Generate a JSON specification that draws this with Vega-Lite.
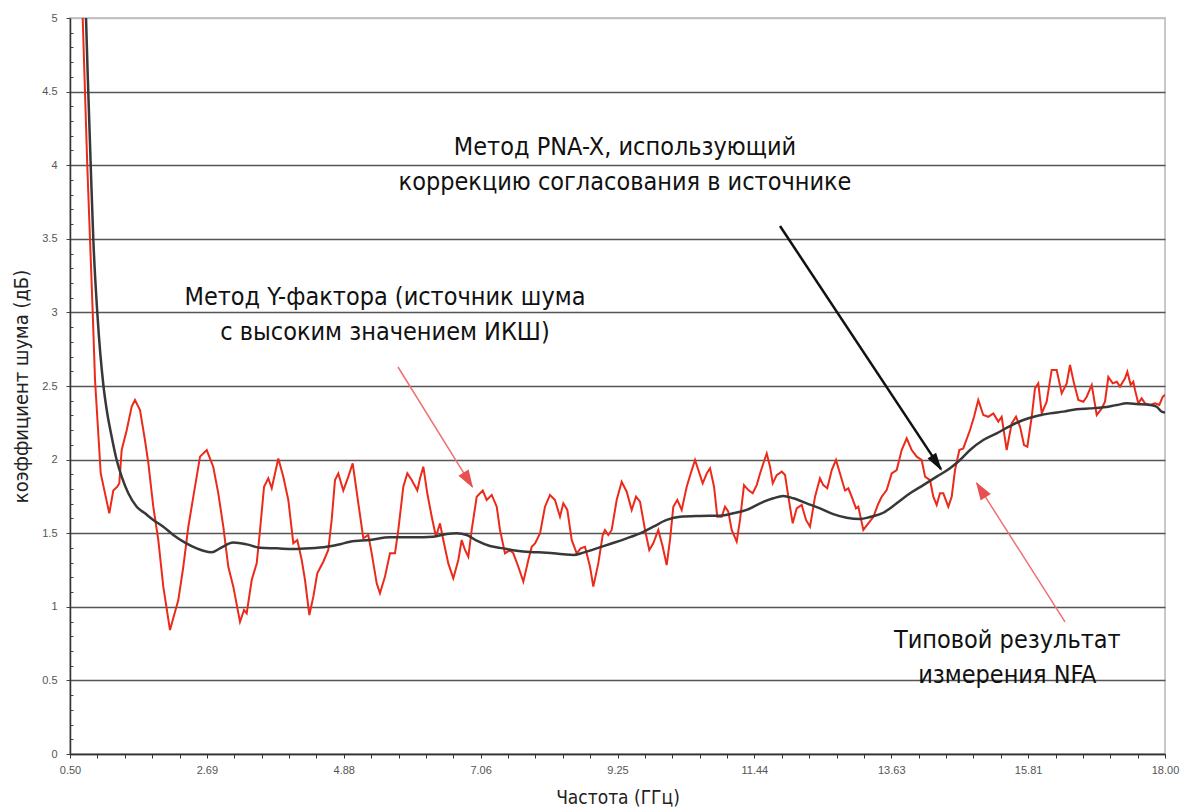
{
  "$schema": "https://vega.github.io/schema/vega-lite/v6.json",
  "width": 1095,
  "height": 736,
  "autosize": {"type": "none"},
  "padding": {"left": 70, "top": 18, "right": 19, "bottom": 58},
  "background": "white",
  "config": {
    "view": {"stroke": "#c8c8c8", "strokeWidth": 2},
    "font": "Liberation Sans"
  },
  "datasets": {
    "red": [
      {"freq": 0.66, "nf": 5.3}, {"freq": 0.703, "nf": 5.0}, {"freq": 0.776, "nf": 4.0}, {"freq": 0.863, "nf": 3.0},
      {"freq": 0.9, "nf": 2.54}, {"freq": 0.991, "nf": 1.906}, {"freq": 1.128, "nf": 1.635}, {"freq": 1.192, "nf": 1.79},
      {"freq": 1.256, "nf": 1.816}, {"freq": 1.288, "nf": 1.839}, {"freq": 1.326, "nf": 2.065}, {"freq": 1.406, "nf": 2.2},
      {"freq": 1.486, "nf": 2.36}, {"freq": 1.539, "nf": 2.405}, {"freq": 1.619, "nf": 2.337}, {"freq": 1.699, "nf": 2.13},
      {"freq": 1.751, "nf": 1.98}, {"freq": 1.831, "nf": 1.68}, {"freq": 1.911, "nf": 1.454}, {"freq": 1.991, "nf": 1.137},
      {"freq": 2.098, "nf": 0.842}, {"freq": 2.231, "nf": 1.046}, {"freq": 2.311, "nf": 1.272}, {"freq": 2.391, "nf": 1.544},
      {"freq": 2.471, "nf": 1.748}, {"freq": 2.578, "nf": 2.02}, {"freq": 2.685, "nf": 2.065}, {"freq": 2.79, "nf": 1.95},
      {"freq": 2.87, "nf": 1.771}, {"freq": 2.95, "nf": 1.544}, {"freq": 3.03, "nf": 1.272}, {"freq": 3.11, "nf": 1.137},
      {"freq": 3.217, "nf": 0.898}, {"freq": 3.281, "nf": 0.978}, {"freq": 3.324, "nf": 0.955}, {"freq": 3.404, "nf": 1.182},
      {"freq": 3.484, "nf": 1.295}, {"freq": 3.537, "nf": 1.52}, {"freq": 3.601, "nf": 1.816}, {"freq": 3.669, "nf": 1.873},
      {"freq": 3.724, "nf": 1.805}, {"freq": 3.776, "nf": 1.906}, {"freq": 3.829, "nf": 2.008}, {"freq": 3.909, "nf": 1.884},
      {"freq": 3.989, "nf": 1.726}, {"freq": 4.069, "nf": 1.431}, {"freq": 4.133, "nf": 1.454}, {"freq": 4.203, "nf": 1.318},
      {"freq": 4.256, "nf": 1.182}, {"freq": 4.325, "nf": 0.944}, {"freq": 4.389, "nf": 1.069}, {"freq": 4.452, "nf": 1.228},
      {"freq": 4.548, "nf": 1.306}, {"freq": 4.628, "nf": 1.386}, {"freq": 4.682, "nf": 1.59}, {"freq": 4.735, "nf": 1.861},
      {"freq": 4.788, "nf": 1.906}, {"freq": 4.868, "nf": 1.79}, {"freq": 4.948, "nf": 1.884}, {"freq": 5.018, "nf": 1.975},
      {"freq": 5.108, "nf": 1.703}, {"freq": 5.188, "nf": 1.465}, {"freq": 5.267, "nf": 1.488}, {"freq": 5.322, "nf": 1.363},
      {"freq": 5.402, "nf": 1.159}, {"freq": 5.454, "nf": 1.092}, {"freq": 5.534, "nf": 1.205}, {"freq": 5.614, "nf": 1.363},
      {"freq": 5.694, "nf": 1.363}, {"freq": 5.747, "nf": 1.522}, {"freq": 5.827, "nf": 1.816}, {"freq": 5.891, "nf": 1.906},
      {"freq": 5.961, "nf": 1.861}, {"freq": 6.051, "nf": 1.79}, {"freq": 6.094, "nf": 1.873}, {"freq": 6.147, "nf": 1.952},
      {"freq": 6.21, "nf": 1.771}, {"freq": 6.281, "nf": 1.612}, {"freq": 6.349, "nf": 1.476}, {"freq": 6.413, "nf": 1.567},
      {"freq": 6.466, "nf": 1.454}, {"freq": 6.546, "nf": 1.295}, {"freq": 6.626, "nf": 1.193}, {"freq": 6.706, "nf": 1.318},
      {"freq": 6.76, "nf": 1.454}, {"freq": 6.813, "nf": 1.386}, {"freq": 6.866, "nf": 1.34}, {"freq": 6.92, "nf": 1.522},
      {"freq": 7.0, "nf": 1.748}, {"freq": 7.096, "nf": 1.79}, {"freq": 7.16, "nf": 1.726}, {"freq": 7.24, "nf": 1.76},
      {"freq": 7.32, "nf": 1.68}, {"freq": 7.372, "nf": 1.522}, {"freq": 7.452, "nf": 1.363}, {"freq": 7.532, "nf": 1.386},
      {"freq": 7.585, "nf": 1.363}, {"freq": 7.665, "nf": 1.272}, {"freq": 7.745, "nf": 1.171}, {"freq": 7.825, "nf": 1.318},
      {"freq": 7.879, "nf": 1.408}, {"freq": 7.932, "nf": 1.431}, {"freq": 8.012, "nf": 1.499}, {"freq": 8.091, "nf": 1.68},
      {"freq": 8.171, "nf": 1.76}, {"freq": 8.251, "nf": 1.726}, {"freq": 8.331, "nf": 1.612}, {"freq": 8.384, "nf": 1.703},
      {"freq": 8.448, "nf": 1.658}, {"freq": 8.518, "nf": 1.454}, {"freq": 8.598, "nf": 1.363}, {"freq": 8.662, "nf": 1.397},
      {"freq": 8.731, "nf": 1.408}, {"freq": 8.811, "nf": 1.272}, {"freq": 8.863, "nf": 1.137}, {"freq": 8.943, "nf": 1.295},
      {"freq": 9.014, "nf": 1.488}, {"freq": 9.05, "nf": 1.522}, {"freq": 9.103, "nf": 1.488}, {"freq": 9.157, "nf": 1.522},
      {"freq": 9.237, "nf": 1.726}, {"freq": 9.317, "nf": 1.85}, {"freq": 9.397, "nf": 1.782}, {"freq": 9.477, "nf": 1.658},
      {"freq": 9.546, "nf": 1.748}, {"freq": 9.61, "nf": 1.714}, {"freq": 9.69, "nf": 1.522}, {"freq": 9.758, "nf": 1.386},
      {"freq": 9.822, "nf": 1.431}, {"freq": 9.902, "nf": 1.522}, {"freq": 9.973, "nf": 1.408}, {"freq": 10.036, "nf": 1.284},
      {"freq": 10.089, "nf": 1.454}, {"freq": 10.142, "nf": 1.68}, {"freq": 10.206, "nf": 1.726}, {"freq": 10.276, "nf": 1.658},
      {"freq": 10.356, "nf": 1.816}, {"freq": 10.42, "nf": 1.906}, {"freq": 10.489, "nf": 1.997}, {"freq": 10.542, "nf": 1.929},
      {"freq": 10.612, "nf": 1.839}, {"freq": 10.676, "nf": 1.906}, {"freq": 10.729, "nf": 1.941}, {"freq": 10.793, "nf": 1.816},
      {"freq": 10.845, "nf": 1.612}, {"freq": 10.916, "nf": 1.612}, {"freq": 10.968, "nf": 1.68}, {"freq": 11.021, "nf": 1.647},
      {"freq": 11.075, "nf": 1.522}, {"freq": 11.155, "nf": 1.442}, {"freq": 11.208, "nf": 1.59}, {"freq": 11.272, "nf": 1.827},
      {"freq": 11.341, "nf": 1.793}, {"freq": 11.411, "nf": 1.771}, {"freq": 11.475, "nf": 1.827}, {"freq": 11.528, "nf": 1.906},
      {"freq": 11.581, "nf": 1.975}, {"freq": 11.635, "nf": 2.042}, {"freq": 11.688, "nf": 1.952}, {"freq": 11.731, "nf": 1.839},
      {"freq": 11.795, "nf": 1.895}, {"freq": 11.875, "nf": 1.918}, {"freq": 11.928, "nf": 1.895}, {"freq": 11.98, "nf": 1.748},
      {"freq": 12.05, "nf": 1.567}, {"freq": 12.114, "nf": 1.669}, {"freq": 12.194, "nf": 1.692}, {"freq": 12.263, "nf": 1.59},
      {"freq": 12.327, "nf": 1.544}, {"freq": 12.407, "nf": 1.748}, {"freq": 12.486, "nf": 1.873}, {"freq": 12.539, "nf": 1.827},
      {"freq": 12.603, "nf": 1.805}, {"freq": 12.674, "nf": 1.929}, {"freq": 12.742, "nf": 1.997}, {"freq": 12.806, "nf": 1.906},
      {"freq": 12.886, "nf": 1.79}, {"freq": 12.939, "nf": 1.805}, {"freq": 12.993, "nf": 1.748}, {"freq": 13.062, "nf": 1.669},
      {"freq": 13.099, "nf": 1.68}, {"freq": 13.179, "nf": 1.522}, {"freq": 13.258, "nf": 1.567}, {"freq": 13.338, "nf": 1.61},
      {"freq": 13.418, "nf": 1.7}, {"freq": 13.472, "nf": 1.748}, {"freq": 13.552, "nf": 1.793}, {"freq": 13.632, "nf": 1.906},
      {"freq": 13.712, "nf": 1.929}, {"freq": 13.792, "nf": 2.065}, {"freq": 13.872, "nf": 2.145}, {"freq": 13.952, "nf": 2.065},
      {"freq": 14.032, "nf": 2.02}, {"freq": 14.112, "nf": 1.997}, {"freq": 14.165, "nf": 1.884}, {"freq": 14.245, "nf": 1.861},
      {"freq": 14.297, "nf": 1.748}, {"freq": 14.351, "nf": 1.692}, {"freq": 14.404, "nf": 1.771}, {"freq": 14.457, "nf": 1.771},
      {"freq": 14.537, "nf": 1.68}, {"freq": 14.591, "nf": 1.748}, {"freq": 14.644, "nf": 1.929}, {"freq": 14.713, "nf": 2.065},
      {"freq": 14.776, "nf": 2.076}, {"freq": 14.884, "nf": 2.201}, {"freq": 14.948, "nf": 2.291}, {"freq": 15.016, "nf": 2.405},
      {"freq": 15.096, "nf": 2.303}, {"freq": 15.176, "nf": 2.291}, {"freq": 15.256, "nf": 2.314}, {"freq": 15.336, "nf": 2.258},
      {"freq": 15.39, "nf": 2.291}, {"freq": 15.47, "nf": 2.065}, {"freq": 15.55, "nf": 2.246}, {"freq": 15.619, "nf": 2.291},
      {"freq": 15.683, "nf": 2.224}, {"freq": 15.747, "nf": 2.099}, {"freq": 15.8, "nf": 2.088}, {"freq": 15.87, "nf": 2.291},
      {"freq": 15.922, "nf": 2.484}, {"freq": 15.975, "nf": 2.518}, {"freq": 16.03, "nf": 2.314}, {"freq": 16.109, "nf": 2.393},
      {"freq": 16.189, "nf": 2.609}, {"freq": 16.269, "nf": 2.609}, {"freq": 16.349, "nf": 2.45}, {"freq": 16.429, "nf": 2.518},
      {"freq": 16.482, "nf": 2.643}, {"freq": 16.546, "nf": 2.518}, {"freq": 16.615, "nf": 2.405}, {"freq": 16.695, "nf": 2.393},
      {"freq": 16.749, "nf": 2.427}, {"freq": 16.829, "nf": 2.507}, {"freq": 16.909, "nf": 2.303}, {"freq": 16.989, "nf": 2.348},
      {"freq": 17.041, "nf": 2.393}, {"freq": 17.094, "nf": 2.561}, {"freq": 17.165, "nf": 2.518}, {"freq": 17.229, "nf": 2.529},
      {"freq": 17.281, "nf": 2.496}, {"freq": 17.361, "nf": 2.552}, {"freq": 17.398, "nf": 2.597}, {"freq": 17.452, "nf": 2.507},
      {"freq": 17.494, "nf": 2.529}, {"freq": 17.521, "nf": 2.473}, {"freq": 17.574, "nf": 2.382}, {"freq": 17.627, "nf": 2.416},
      {"freq": 17.681, "nf": 2.382}, {"freq": 17.76, "nf": 2.371}, {"freq": 17.84, "nf": 2.382}, {"freq": 17.909, "nf": 2.371},
      {"freq": 17.963, "nf": 2.427}, {"freq": 18.0, "nf": 2.44}
    ],
    "black": [
      {"freq": 0.74, "nf": 5.3}, {"freq": 0.756, "nf": 5.0}, {"freq": 0.792, "nf": 4.5}, {"freq": 0.831, "nf": 4.0},
      {"freq": 0.872, "nf": 3.5}, {"freq": 0.936, "nf": 3.0}, {"freq": 1.035, "nf": 2.5}, {"freq": 1.087, "nf": 2.337},
      {"freq": 1.166, "nf": 2.156}, {"freq": 1.246, "nf": 1.997}, {"freq": 1.326, "nf": 1.884}, {"freq": 1.432, "nf": 1.771},
      {"freq": 1.566, "nf": 1.68}, {"freq": 1.699, "nf": 1.635}, {"freq": 1.831, "nf": 1.59}, {"freq": 1.991, "nf": 1.544},
      {"freq": 2.151, "nf": 1.488}, {"freq": 2.338, "nf": 1.436}, {"freq": 2.525, "nf": 1.397}, {"freq": 2.63, "nf": 1.381},
      {"freq": 2.765, "nf": 1.37}, {"freq": 2.897, "nf": 1.397}, {"freq": 3.11, "nf": 1.436}, {"freq": 3.324, "nf": 1.424},
      {"freq": 3.537, "nf": 1.401}, {"freq": 3.804, "nf": 1.397}, {"freq": 4.069, "nf": 1.392}, {"freq": 4.336, "nf": 1.397},
      {"freq": 4.603, "nf": 1.408}, {"freq": 4.815, "nf": 1.425}, {"freq": 4.975, "nf": 1.442}, {"freq": 5.295, "nf": 1.454},
      {"freq": 5.614, "nf": 1.472}, {"freq": 5.987, "nf": 1.472}, {"freq": 6.306, "nf": 1.476}, {"freq": 6.52, "nf": 1.495},
      {"freq": 6.68, "nf": 1.499}, {"freq": 6.84, "nf": 1.488}, {"freq": 7.0, "nf": 1.449}, {"freq": 7.212, "nf": 1.413},
      {"freq": 7.425, "nf": 1.397}, {"freq": 7.639, "nf": 1.381}, {"freq": 7.852, "nf": 1.372}, {"freq": 8.118, "nf": 1.368},
      {"freq": 8.384, "nf": 1.357}, {"freq": 8.544, "nf": 1.352}, {"freq": 8.704, "nf": 1.368}, {"freq": 8.918, "nf": 1.397},
      {"freq": 9.13, "nf": 1.427}, {"freq": 9.397, "nf": 1.465}, {"freq": 9.61, "nf": 1.499}, {"freq": 9.822, "nf": 1.544},
      {"freq": 10.036, "nf": 1.59}, {"freq": 10.249, "nf": 1.612}, {"freq": 10.569, "nf": 1.617}, {"freq": 10.889, "nf": 1.619},
      {"freq": 11.101, "nf": 1.635}, {"freq": 11.315, "nf": 1.658}, {"freq": 11.528, "nf": 1.703}, {"freq": 11.74, "nf": 1.737},
      {"freq": 11.9, "nf": 1.753}, {"freq": 12.06, "nf": 1.737}, {"freq": 12.274, "nf": 1.703}, {"freq": 12.486, "nf": 1.669},
      {"freq": 12.699, "nf": 1.63}, {"freq": 12.913, "nf": 1.605}, {"freq": 13.126, "nf": 1.596}, {"freq": 13.286, "nf": 1.61},
      {"freq": 13.498, "nf": 1.639}, {"freq": 13.712, "nf": 1.703}, {"freq": 13.925, "nf": 1.771}, {"freq": 14.137, "nf": 1.827},
      {"freq": 14.351, "nf": 1.884}, {"freq": 14.564, "nf": 1.941}, {"freq": 14.724, "nf": 1.997}, {"freq": 14.884, "nf": 2.065},
      {"freq": 15.096, "nf": 2.133}, {"freq": 15.31, "nf": 2.178}, {"freq": 15.523, "nf": 2.228}, {"freq": 15.736, "nf": 2.269},
      {"freq": 15.95, "nf": 2.296}, {"freq": 16.163, "nf": 2.314}, {"freq": 16.375, "nf": 2.326}, {"freq": 16.589, "nf": 2.342},
      {"freq": 16.802, "nf": 2.348}, {"freq": 17.015, "nf": 2.355}, {"freq": 17.229, "nf": 2.371}, {"freq": 17.389, "nf": 2.382},
      {"freq": 17.549, "nf": 2.378}, {"freq": 17.76, "nf": 2.371}, {"freq": 17.867, "nf": 2.359}, {"freq": 17.947, "nf": 2.326},
      {"freq": 18.0, "nf": 2.32}
    ],
    "notes": [
      {"freq": 9.37, "nf": 4.124, "label": "Метод PNA-X, использующий"},
      {"freq": 9.37, "nf": 3.886, "label": "коррекцию согласования в источнике"},
      {"freq": 5.534, "nf": 3.105, "label": "Метод Y-фактора (источник шума"},
      {"freq": 5.534, "nf": 2.867, "label": "с высоким значением ИКШ)"},
      {"freq": 15.48, "nf": 0.774, "label": "Типовой результат"},
      {"freq": 15.48, "nf": 0.537, "label": "измерения NFA"}
    ],
    "arrows": [
      {"id": "pna", "freq": 11.847, "nf": 3.587, "freq2": 14.42, "nf2": 1.935},
      {"id": "yf", "freq": 5.742, "nf": 2.629, "freq2": 6.93, "nf2": 1.815},
      {"id": "nfa", "freq": 16.402, "nf": 0.897, "freq2": 14.99, "nf2": 1.84}
    ],
    "heads": [
      {"id": "pna", "freq": 14.436, "nf": 1.923},
      {"id": "yf", "freq": 6.941, "nf": 1.807},
      {"id": "nfa", "freq": 14.98, "nf": 1.848}
    ]
  },
  "encoding": {
    "x": {
      "field": "freq", "type": "quantitative",
      "title": "Частота (ГГц)",
      "scale": {"domain": [0.5, 18], "nice": false, "zero": false},
      "axis": {
        "values": [0.5, 0.9375, 1.375, 1.8125, 2.25, 2.6875, 3.125, 3.5625, 4.0, 4.4375, 4.875, 5.3125, 5.75, 6.1875, 6.625, 7.0625, 7.5, 7.9375, 8.375, 8.8125, 9.25, 9.6875, 10.125, 10.5625, 11.0, 11.4375, 11.875, 12.3125, 12.75, 13.1875, 13.625, 14.0625, 14.5, 14.9375, 15.375, 15.8125, 16.25, 16.6875, 17.125, 17.5625, 18.0],
        "labelExpr": "abs((datum.value-0.5)/2.1875 - round((datum.value-0.5)/2.1875)) < 0.001 ? format(datum.value, '.2f') : ''",
        "labelFont": "Liberation Sans", "labelFontSize": 11, "labelColor": "#555", "labelPadding": 6,
        "labelOverlap": false, "labelFlush": false,
        "domainColor": "#333", "domainWidth": 1.5,
        "tickColor": "#333", "tickSize": 4, "tickWidth": 1,
        "grid": false,
        "titleFont": "DejaVu Sans Condensed, Roboto Condensed, Liberation Sans", "titleFontSize": 19, "titleFontWeight": "normal", "titleColor": "#222", "titlePadding": 13
      }
    },
    "y": {
      "field": "nf", "type": "quantitative",
      "title": "коэффициент шума (дБ)",
      "scale": {"domain": [0, 5], "nice": false, "zero": false},
      "axis": {
        "values": [0, 0.1, 0.2, 0.3, 0.4, 0.5, 0.6, 0.7, 0.8, 0.9, 1, 1.1, 1.2, 1.3, 1.4, 1.5, 1.6, 1.7, 1.8, 1.9, 2, 2.1, 2.2, 2.3, 2.4, 2.5, 2.6, 2.7, 2.8, 2.9, 3, 3.1, 3.2, 3.3, 3.4, 3.5, 3.6, 3.7, 3.8, 3.9, 4, 4.1, 4.2, 4.3, 4.4, 4.5, 4.6, 4.7, 4.8, 4.9, 5],
        "labelExpr": "abs(datum.value*2 - round(datum.value*2)) < 0.001 ? format(datum.value, '.1~f') : ''",
        "labelFont": "Liberation Sans", "labelFontSize": 11, "labelColor": "#555", "labelPadding": 9,
        "labelOverlap": false, "labelFlush": false,
        "domainColor": "#333", "domainWidth": 1.5,
        "tickColor": "#444", "tickWidth": 1,
        "tickSize": {"condition": {"test": "abs(datum.value*2 - round(datum.value*2)) < 0.001", "value": 4}, "value": -3},
        "grid": true,
        "gridWidth": 1.5,
        "gridColor": {"condition": {"test": "datum.value > 4.95", "value": "#c0c0c0"}, "value": "#555"},
        "gridOpacity": {"condition": {"test": "abs(datum.value*2 - round(datum.value*2)) < 0.001", "value": 1}, "value": 0},
        "titleFont": "DejaVu Sans Condensed, Roboto Condensed, Liberation Sans", "titleFontSize": 20, "titleFontWeight": "normal", "titleColor": "#222", "titlePadding": 10
      }
    }
  },
  "layer": [
    {
      "data": {"name": "red"},
      "mark": {"type": "line", "color": "#ec2a1a", "strokeWidth": 2, "clip": true, "interpolate": "linear"}
    },
    {
      "data": {"name": "black"},
      "mark": {"type": "line", "color": "#383838", "strokeWidth": 2.5, "clip": true, "interpolate": "monotone"}
    },
    {
      "data": {"name": "arrows"},
      "transform": [{"filter": "datum.id == 'pna'"}],
      "mark": {"type": "rule", "color": "#111", "strokeWidth": 2.5},
      "encoding": {"x2": {"field": "freq2"}, "y2": {"field": "nf2"}}
    },
    {
      "data": {"name": "arrows"},
      "transform": [{"filter": "datum.id != 'pna'"}],
      "mark": {"type": "rule", "color": "#f07070", "strokeWidth": 1.5},
      "encoding": {"x2": {"field": "freq2"}, "y2": {"field": "nf2"}}
    },
    {
      "data": {"name": "heads"},
      "transform": [{"filter": "datum.id == 'pna'"}],
      "mark": {"type": "point", "shape": "M0,0L-0.5,1.8L0.5,1.8Z", "filled": true, "color": "#111", "opacity": 1, "size": 420, "angle": 146.5, "strokeWidth": 0}
    },
    {
      "data": {"name": "heads"},
      "transform": [{"filter": "datum.id == 'yf'"}],
      "mark": {"type": "point", "shape": "M0,0L-0.6,1.8L0.6,1.8Z", "filled": true, "color": "#e85050", "opacity": 1, "size": 400, "angle": 148.2, "strokeWidth": 0}
    },
    {
      "data": {"name": "heads"},
      "transform": [{"filter": "datum.id == 'nfa'"}],
      "mark": {"type": "point", "shape": "M0,0L-0.6,1.8L0.6,1.8Z", "filled": true, "color": "#e85050", "opacity": 1, "size": 400, "angle": 327.6, "strokeWidth": 0}
    },
    {
      "data": {"name": "notes"},
      "mark": {"type": "text", "font": "DejaVu Sans Condensed, Roboto Condensed, Liberation Sans", "fontSize": 25, "color": "#111", "align": "center", "baseline": "middle"},
      "encoding": {"text": {"field": "label"}}
    }
  ]
}
